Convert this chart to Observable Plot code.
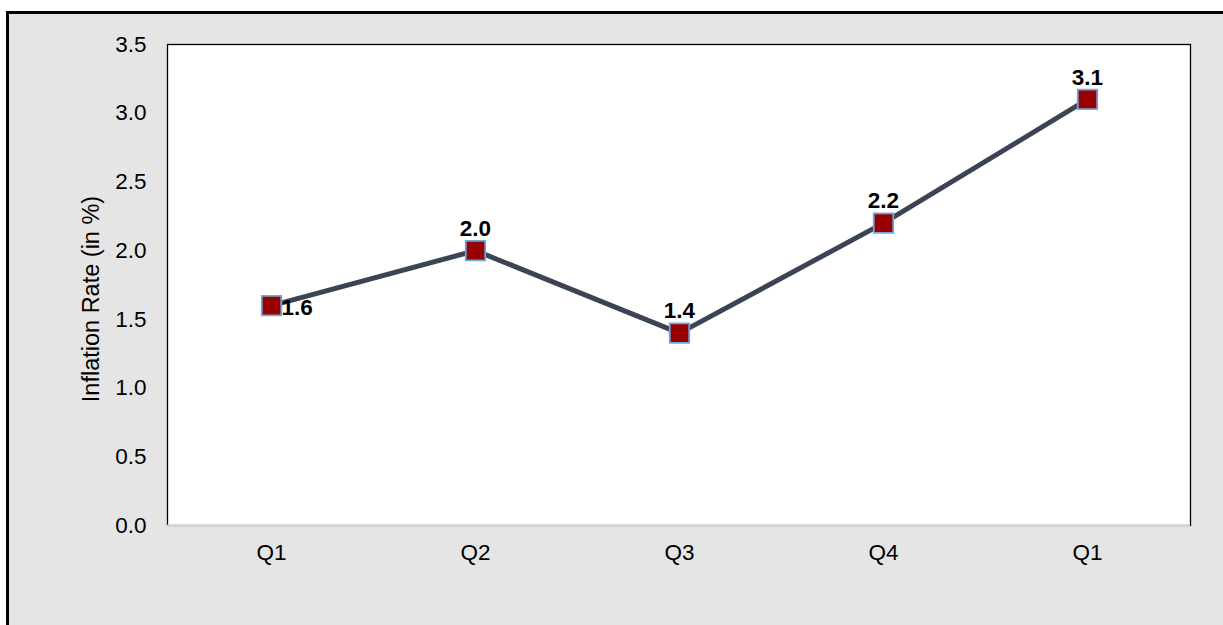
<!DOCTYPE html>
<html>
<head>
<meta charset="utf-8">
<script src="https://cdn.jsdelivr.net/npm/d3@7"></script>
<script src="https://cdn.jsdelivr.net/npm/@observablehq/plot@0.6"></script>
<style>
  html, body { margin: 0; padding: 0; background: #ffffff; width: 1223px; height: 625px; overflow: hidden; }
  #frame { position: absolute; left: 6px; top: 11px; width: 1300px; height: 700px; background: #e5e5e5; border-left: 3px solid #000; border-top: 3px solid #000; }
  #chart { position: absolute; left: 0; top: 0; }
</style>
</head>
<body>
<div id="frame"></div>
<div id="chart"></div>
<script>
const keys = ["a", "b", "c", "d", "e"];
const quarterLabels = ["Q1", "Q2", "Q3", "Q4", "Q1"];
const inflation = [1.6, 2.0, 1.4, 2.2, 3.1];
const yTicks = [0, 0.5, 1.0, 1.5, 2.0, 2.5, 3.0, 3.5];
const yTitle = "Inflation Rate (in %)";

const data = keys.map((k, i) => ({key: k, label: quarterLabels[i], value: inflation[i], idx: i}));
const qFmt = (d) => quarterLabels[keys.indexOf(d)];

const chart = Plot.plot({
  width: 1223,
  height: 625,
  marginLeft: 167,
  marginRight: 33,
  marginTop: 44,
  marginBottom: 100,
  style: {background: "transparent", fontFamily: "Liberation Sans, Arial, sans-serif", fontSize: "22px", color: "#000"},
  x: {type: "band", domain: keys, padding: 0},
  y: {domain: [0, 3.5]},
  marks: [
    Plot.frame({fill: "white", stroke: "#000", strokeWidth: 1.3}),
    Plot.ruleY([0], {stroke: "#d9d9d9", strokeWidth: 2}),
    Plot.axisX({tickSize: 0, tickPadding: 19, fontSize: 22.5, tickFormat: qFmt, label: null}),
    Plot.axisY({ticks: yTicks, tickFormat: (d) => d.toFixed(1), tickSize: 0, tickPadding: 21, fontSize: 22.5, label: null}),
    Plot.text([yTitle], {frameAnchor: "left", dx: -76, dy: 14, rotate: -90, textAnchor: "middle", fontSize: 23.5, fill: "#000", text: (d) => d}),
    Plot.line(data, {x: "key", y: "value", stroke: "#3a4454", strokeWidth: 5}),
    Plot.dot(data, {x: "key", y: "value", symbol: "square", r: 11, fill: "#990000", stroke: "#6fa8dc", strokeWidth: 1.8}),
    Plot.text(data.filter(d => d.idx === 0), {x: "key", y: "value", text: (d) => d.value.toFixed(1), dx: 10, dy: 2,
      textAnchor: "start", fontWeight: "bold", fontSize: 22.5, fill: "#000"}),
    Plot.text(data.filter(d => d.idx !== 0), {x: "key", y: "value", text: (d) => d.value.toFixed(1), dy: -22,
      textAnchor: "middle", fontWeight: "bold", fontSize: 22.5, fill: "#000"})
  ]
});
document.getElementById("chart").appendChild(chart);
</script>
</body>
</html>
